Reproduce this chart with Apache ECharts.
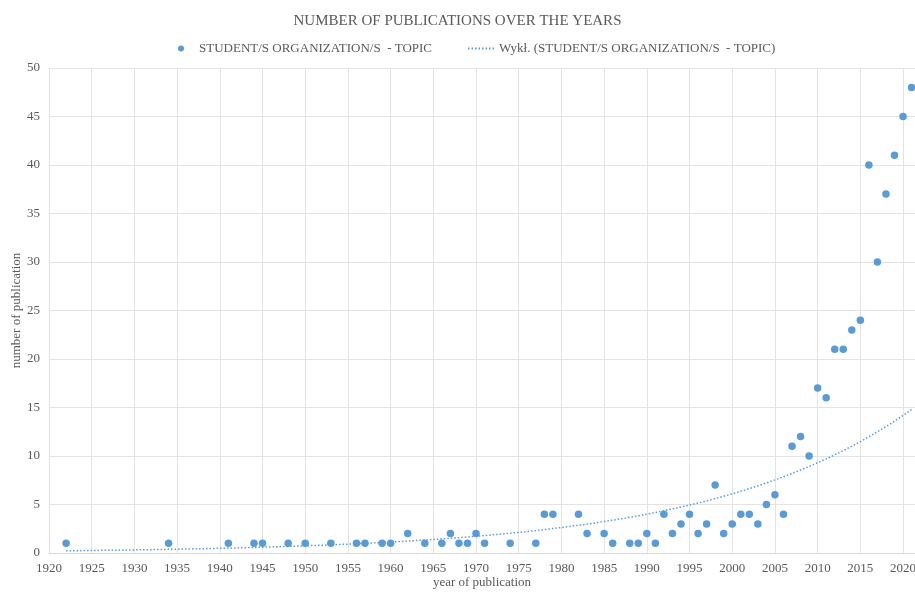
<!DOCTYPE html>
<html><head><meta charset="utf-8">
<script src="https://cdn.jsdelivr.net/npm/echarts@6/dist/echarts.min.js"></script>
<style>html,body{margin:0;padding:0;background:#fff}#c{width:915px;height:592px}</style>
</head><body><div id="c"></div>
<script>
const years = [1922,1934,1941,1944,1945,1948,1950,1953,1956,1957,1959,1960,1962,1964,1966,1967,1968,1969,1970,1971,1974,1977,1978,1979,1982,1983,1985,1986,1988,1989,1990,1991,1992,1993,1994,1995,1996,1997,1998,1999,2000,2001,2002,2003,2004,2005,2006,2007,2008,2009,2010,2011,2012,2013,2014,2015,2016,2017,2018,2019,2020,2021];
const counts = [1,1,1,1,1,1,1,1,1,1,1,1,2,1,1,2,1,1,2,1,1,1,4,4,4,2,2,1,1,1,2,1,4,2,3,4,2,3,7,2,3,4,4,3,5,6,4,11,12,10,17,16,21,21,23,24,40,30,37,41,45,48];
const seriesName = 'STUDENT/S ORGANIZATION/S  - TOPIC';
const trendName = 'Wykł. (STUDENT/S ORGANIZATION/S  - TOPIC)';

// Exponential trendline (least squares on ln y), as a spreadsheet does
const n = years.length;
let sx=0, sy=0, sxx=0, sxy=0;
for (let i=0;i<n;i++){const x=years[i], y=Math.log(counts[i]); sx+=x; sy+=y; sxx+=x*x; sxy+=x*y;}
const b = (n*sxy - sx*sy)/(n*sxx - sx*sx);
const lnA = (sy - b*sx)/n;
const trend = [];
for (let x=years[0]; x<=years[n-1]+1e-9; x+=0.5) trend.push([x, Math.exp(lnA + b*x)]);

const font = 'Liberation Serif';
const chart = echarts.init(document.getElementById('c'));
chart.setOption({
  animation:false,
  textStyle:{fontFamily:font},
  title:{text:'NUMBER OF PUBLICATIONS OVER THE YEARS', left:'center', top:9,
    textStyle:{fontFamily:font, fontSize:15, fontWeight:'normal', color:'#595959'}},
  legend:{top:37, left:173, itemGap:35, itemWidth:26, itemHeight:6,
    textStyle:{fontFamily:font, fontSize:13, color:'#595959'},
    data:[{name:seriesName, icon:'circle'},
          {name:trendName, itemStyle:{color:'transparent', borderWidth:0}}]},
  grid:{left:49, right:0, top:68, bottom:39, containLabel:false, outerBoundsMode:'none'},
  xAxis:{type:'value', min:1920, max:2021.4, interval:5,
    name:'year of publication', nameLocation:'middle', nameGap:23, nameMoveOverlap:false,
    nameTextStyle:{fontFamily:font, fontSize:13, color:'#595959'},
    axisLine:{show:true, lineStyle:{color:'#d9d9d9'}}, axisTick:{show:false},
    axisLabel:{fontFamily:font, fontSize:13, color:'#595959', showMaxLabel:false, margin:9,
      formatter:v=>String(v)},
    splitLine:{show:true, lineStyle:{color:'#e3e3e3'}}},
  yAxis:{type:'value', min:0, max:50, interval:5,
    name:'number of publication', nameLocation:'middle', nameGap:26, nameMoveOverlap:false,
    nameTextStyle:{fontFamily:font, fontSize:13, color:'#595959'},
    axisLine:{show:false}, axisTick:{show:false},
    axisLabel:{fontFamily:font, fontSize:13, color:'#595959', margin:9},
    splitLine:{show:true, lineStyle:{color:'#e3e3e3'}}},
  series:[
    {name:seriesName, type:'scatter', symbolSize:7.5, itemStyle:{color:'#5b9bd5', opacity:1},
      data:years.map((y,i)=>[y,counts[i]]), z:3},
    {name:trendName, type:'line', showSymbol:false, symbol:'none', smooth:false,
      lineStyle:{color:'#5b9bd5', width:1.5, type:[1.5,2]}, itemStyle:{color:'#5b9bd5'},
      data:trend, z:2}
  ]
});
</script></body></html>
